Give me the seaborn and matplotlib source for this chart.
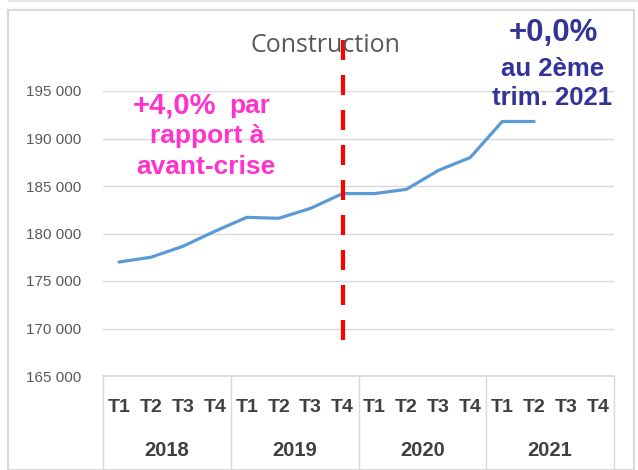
import matplotlib
matplotlib.use("Agg")
import matplotlib.pyplot as plt
import matplotlib.transforms as mtransforms
from matplotlib.patches import Rectangle
import seaborn as sns
import pandas as pd

# Data
years = ['2018', '2019', '2020', '2021']
quarters = ['T1', 'T2', 'T3', 'T4']
emploi = [177000, 177500, 178650, 180230,
          181700, 181600, 182650, 184200,
          184200, 184650, 186640, 188000,
          191790, 191790]
y_ticks = [165000, 170000, 175000, 180000, 185000, 190000, 195000]

labels = [q for y in years for q in quarters]
df = pd.DataFrame({'pos': range(len(emploi)), 'Emploi': emploi})

sns.set_theme(style="white")
plt.rcParams['font.family'] = ['Liberation Sans', 'DejaVu Sans']

fig = plt.figure(figsize=(6.38, 4.70), dpi=100)
W, H = 638, 470

def fy(py):
    # pixel row -> figure fraction
    return (H - py) / H

# outer chart frame
fig.patches.append(Rectangle((8 / W, 0), (634 - 8) / W, (470 - 10) / H,
                             transform=fig.transFigure, fill=False,
                             edgecolor='#D9D9D9', linewidth=1.5))
fig.patches.append(Rectangle((8 / W, fy(2)), (638 - 8) / W, 2 / H,
                             transform=fig.transFigure, fill=True,
                             facecolor='#E6E6E6', edgecolor='none'))

left, right, bottom, top = 103, 614, 376, 91
ax = fig.add_axes([left / W, fy(bottom), (right - left) / W, (bottom - top) / H])

sns.lineplot(data=df, x='pos', y='Emploi', ax=ax, color='#5B9BD5', linewidth=2.3)

ax.set_xlim(-0.5, len(labels) - 0.5)
ax.set_ylim(165000, 195000)
ax.set_yticks(y_ticks)
ax.set_yticklabels([f"{v:,}".replace(',', ' ') for v in y_ticks], color='#595959', fontsize=11)
ax.tick_params(axis='y', length=0, pad=16)
ax.set_xticks([])
ax.set_xlabel('')
ax.set_ylabel('')
for s in ['left', 'right', 'top']:
    ax.spines[s].set_visible(False)
ax.spines['bottom'].set_color('#D9D9D9')
ax.yaxis.grid(True, color='#D9D9D9', linewidth=1)
ax.set_axisbelow(True)

# category axis: quarters and years
trans = mtransforms.blended_transform_factory(ax.transData, fig.transFigure)
for i, lab in enumerate(labels):
    ax.text(i, fy(408), lab, transform=trans, ha='center', va='center',
            fontsize=14, color='#404040', fontweight='bold')
for k, y in enumerate(years):
    ax.text(k * 4 + 1.5, fy(451), y, transform=trans, ha='center', va='center',
            fontsize=14.5, color='#404040', fontweight='bold')
for k in range(len(years) + 1):
    ax.plot([k * 4 - 0.5] * 2, [0, fy(bottom)], transform=trans,
            color='#D9D9D9', linewidth=1, clip_on=False)

# title
fig.text(325 / W, fy(45), 'Construction', ha='center', va='center',
         fontsize=18, color='#595959', family='Open Sans')

# dashed marker at T4 2019
ax.axvline(7, ymin=(bottom - 340) / (bottom - top), ymax=(bottom - 28) / (bottom - top),
           color='#FF0000', linewidth=3, dashes=(4.8, 3.6), clip_on=False)

# annotations
pink = '#FF33CC'
fig.text(216 / W, fy(113), '+4,0%', ha='right', va='baseline',
         fontsize=21, color=pink, fontweight='bold')
fig.text(229 / W, fy(113), 'par', ha='left', va='baseline',
         fontsize=19, color=pink, fontweight='bold')
fig.text(207 / W, fy(136), 'rapport à', ha='center', va='center',
         fontsize=19, color=pink, fontweight='bold')
fig.text(206 / W, fy(167), 'avant-crise', ha='center', va='center',
         fontsize=19, color=pink, fontweight='bold')

blue = '#333399'
fig.text(553 / W, fy(33), '+0,0%', ha='center', va='center',
         fontsize=22.5, color=blue, fontweight='bold')
fig.text(553 / W, fy(69), 'au 2ème', ha='center', va='center',
         fontsize=18.5, color=blue, fontweight='bold')
fig.text(552 / W, fy(98), 'trim. 2021', ha='center', va='center',
         fontsize=18.5, color=blue, fontweight='bold')

fig.savefig('out.png', dpi=100)
